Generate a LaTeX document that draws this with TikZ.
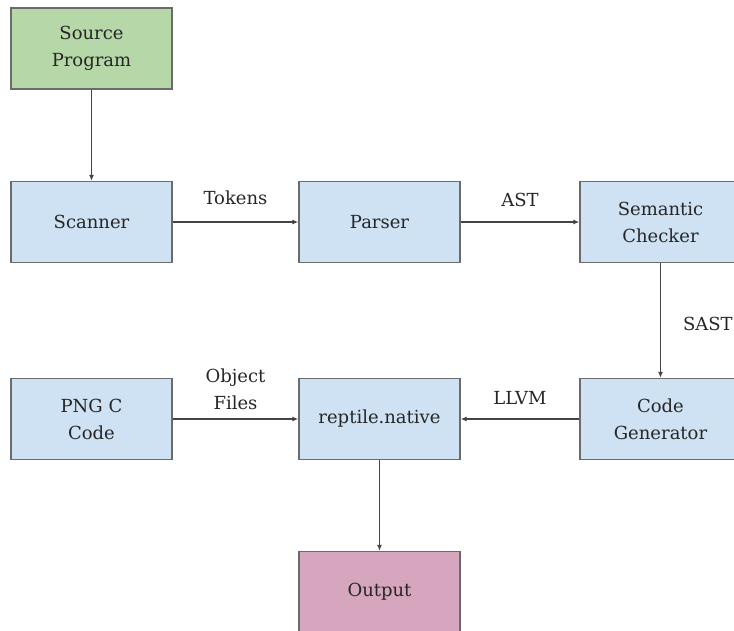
\documentclass[tikz,border=0pt]{standalone}
\usepackage{fontspec}
\setmainfont{DejaVu Serif}
\usetikzlibrary{arrows.meta}
\definecolor{bordergray}{HTML}{6B6B6B}
\definecolor{linegray}{HTML}{444444}
\definecolor{boxblue}{HTML}{CFE2F3}
\definecolor{boxgreen}{HTML}{B6D7A8}
\definecolor{boxpink}{HTML}{D5A6BD}
\definecolor{textgray}{HTML}{262626}
\tikzset{
  stagebox/.style={draw=bordergray, line width=1.4pt, fill=boxblue, minimum width=161pt, minimum height=81pt, inner sep=0pt, align=center, text=textgray, font=\fontsize{18}{27}\selectfont},
  greenbox/.style={stagebox, fill=boxgreen},
  pinkbox/.style={stagebox, fill=boxpink},
  flow/.style={draw=linegray, line width=1.1pt, -{Latex[length=6pt,width=5pt]}},
  lbl/.style={text=textgray, align=center, font=\fontsize{18}{27}\selectfont, inner sep=0pt}
}
\begin{document}
\begin{tikzpicture}[x=1pt,y=-1pt]
\useasboundingbox (0,0) rectangle (734,631);
\clip (0,0) rectangle (734,631);
\node[greenbox] (src) at (91.5,48.5) {Source\\Program};
\node[stagebox] (scan) at (91.5,222) {Scanner};
\node[stagebox] (parse) at (379.5,222) {Parser};
\node[stagebox] (sem) at (660.5,222) {Semantic\\Checker};
\node[stagebox] (gen) at (660.5,419) {Code\\Generator};
\node[stagebox] (rep) at (379.5,419) {reptile.native};
\node[stagebox] (png) at (91.5,419) {PNG C\\Code};
\node[pinkbox] (out) at (379.5,592) {Output};
\draw[flow] (src) -- (scan);
\draw[flow] (scan) -- node[lbl, above=17pt] {Tokens} (parse);
\draw[flow] (parse) -- node[lbl, above=15pt] {AST} (sem);
\draw[flow] (sem) -- node[lbl, right=22pt, yshift=-3pt] {SAST} (gen);
\draw[flow] (gen) -- node[lbl, above=14pt] {LLVM} (rep);
\draw[flow] (png) -- node[lbl, above=9pt] {Object\\Files} (rep);
\draw[flow] (rep) -- (out);
\end{tikzpicture}
\end{document}
